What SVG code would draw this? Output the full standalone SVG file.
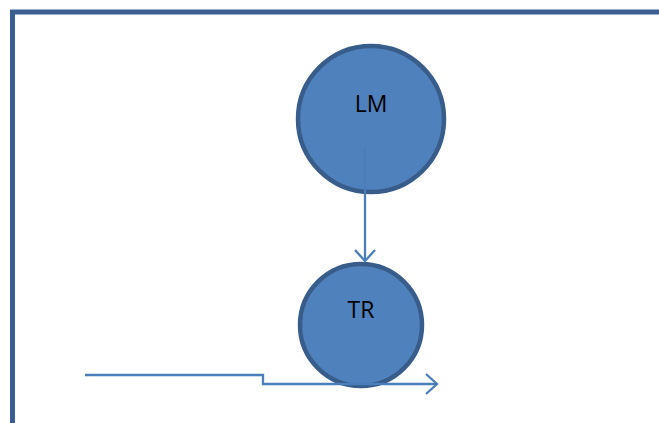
<svg xmlns="http://www.w3.org/2000/svg" width="659" height="423" viewBox="0 0 659 423">
<style>
.node{fill:#4f81bd;stroke:#385d8a;stroke-width:4.5}
.lbl{font-family:"Open Sans","Liberation Sans",sans-serif;font-size:23px;fill:#000;text-anchor:middle}
.conn{fill:none;stroke:#4a7ebb;stroke-width:2.3}
.frame{fill:none;stroke:#3b5f91;stroke-width:5}
</style>
<defs>
<marker id="arr" markerWidth="16" markerHeight="24" refX="13" refY="12" orient="auto" markerUnits="userSpaceOnUse">
<path d="M2,2 L13,12 L2,22" fill="none" stroke="#4a7ebb" stroke-width="2.3"/>
</marker>
</defs>
<rect width="659" height="423" fill="#fff"/>
<path class="frame" d="M12.5,423 L12.5,12 L659,12"/>
<g id="LM">
<circle class="node" cx="371" cy="119" r="73"/>
<text class="lbl" x="371" y="112">LM</text>
</g>
<g id="TR">
<circle class="node" cx="361" cy="325" r="61"/>
<text class="lbl" x="361" y="318">TR</text>
</g>
<g id="connectors">
<path class="conn" d="M365,149 L365,261" marker-end="url(#arr)"/>
<path class="conn" d="M85,375 L263,375 L263,384 L437,384" marker-end="url(#arr)"/>
</g>
</svg>
